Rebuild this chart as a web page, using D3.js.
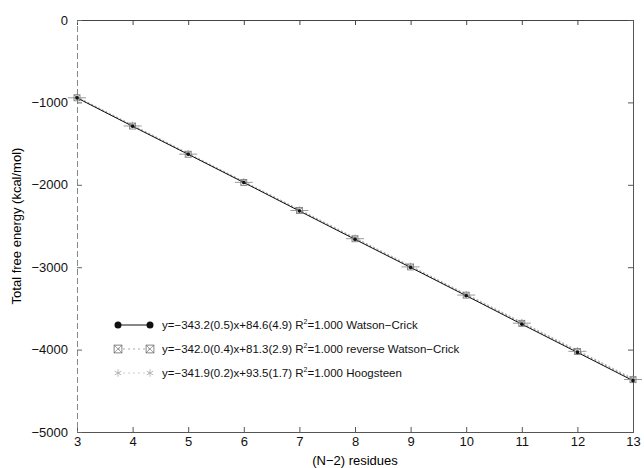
<!DOCTYPE html>
<html>
<head>
<meta charset="utf-8">
<script src="https://cdn.jsdelivr.net/npm/d3@7"></script>
<style>
  body { margin: 0; background: #fff; }
  svg text { font-family: "Liberation Sans", Arial, sans-serif; }
</style>
</head>
<body>
<svg id="chart" width="644" height="468"></svg>
<script>
// residues (N-2)
const residues = [3, 4, 5, 6, 7, 8, 9, 10, 11, 12, 13];

// total free energy (kcal/mol)
const watsonCrick = [-945, -1290, -1630, -1972, -2318, -2662, -3003, -3346, -3692, -4034, -4377];
const reverseWC = [-944, -1287, -1629, -1971, -2312, -2655, -2997, -3339, -3681, -4023, -4365];
const hoogsteen = [-932, -1274, -1616, -1958, -2300, -2642, -2984, -3326, -3667, -4009, -4351];

const xTicks = [3, 4, 5, 6, 7, 8, 9, 10, 11, 12, 13];
const yTicks = [0, -1000, -2000, -3000, -4000, -5000];

const legendLabels = [
  "y=\u2212343.2(0.5)x+84.6(4.9) R|=1.000 Watson\u2212Crick",
  "y=\u2212342.0(0.4)x+81.3(2.9) R|=1.000 reverse Watson\u2212Crick",
  "y=\u2212341.9(0.2)x+93.5(1.7) R|=1.000 Hoogsteen"
];

const mLeft = 77, mRight = 633, mTop = 20, mBottom = 432;

const svg = d3.select('#chart');

const xScale = d3.scaleLinear().domain([3, 13]).range([mLeft, mRight]);
const yScale = d3.scaleLinear().domain([-5000, 0]).range([mBottom, mTop]);

const fmt = d => d < 0 ? "\u2212" + Math.abs(d) : String(d);

// bottom axis (labels) + top axis (ticks only), ticks inward
svg.append('g')
  .attr('transform', `translate(0, ${mBottom})`)
  .call(d3.axisBottom(xScale).tickValues(xTicks).tickSize(-5).tickPadding(5).tickFormat(d3.format('d')))
  .call(g => g.select('.domain').attr('stroke', '#555'))
  .call(g => g.selectAll('.tick line').attr('stroke', '#555'))
  .call(g => g.selectAll('text').attr('font-size', 13).attr('fill', '#111'));

svg.append('g')
  .attr('transform', `translate(0, ${mTop})`)
  .call(d3.axisTop(xScale).tickValues(xTicks).tickSize(-5).tickFormat(''))
  .call(g => g.select('.domain').attr('stroke', '#444'))
  .call(g => g.selectAll('.tick line').attr('stroke', '#444'));

svg.append('g')
  .attr('transform', `translate(${mLeft}, 0)`)
  .call(d3.axisLeft(yScale).tickValues(yTicks).tickSize(-5).tickPadding(9).tickFormat(fmt))
  .call(g => g.select('.domain').attr('stroke', '#888').attr('stroke-dasharray', '6,3'))
  .call(g => g.selectAll('.tick line').attr('stroke', '#666'))
  .call(g => g.selectAll('text').attr('font-size', 13).attr('fill', '#111'));

svg.append('g')
  .attr('transform', `translate(${mRight}, 0)`)
  .call(d3.axisRight(yScale).tickValues(yTicks).tickSize(-5).tickFormat(''))
  .call(g => g.select('.domain').attr('stroke', '#555'))
  .call(g => g.selectAll('.tick line').attr('stroke', '#555'));

// axis titles
svg.append('text')
  .attr('x', 355)
  .attr('y', 465)
  .attr('text-anchor', 'middle')
  .attr('font-size', 13)
  .text('(N\u22122) residues');

svg.append('text')
  .attr('transform', 'translate(21, 226) rotate(-90)')
  .attr('text-anchor', 'middle')
  .attr('font-size', 13)
  .text('Total free energy (kcal/mol)');

// series
const series = [
  { values: hoogsteen, stroke: '#aaa', dash: '2,2', marker: 'star', color: '#999' },
  { values: reverseWC, stroke: '#888', dash: '2,2', marker: 'square', color: '#777' },
  { values: watsonCrick, stroke: '#111', dash: null, marker: 'circle', color: '#111' }
];

const line = d3.line()
  .x((d, i) => xScale(residues[i]))
  .y(d => yScale(d));

function drawMarker(g, type, x, y, color, big) {
  const s = big ? 1.3 : 1;
  if (type === 'circle') {
    g.append('circle').attr('cx', x).attr('cy', y).attr('r', (big ? 3.5 : 1.8))
      .attr('fill', color);
  } else if (type === 'square') {
    g.append('rect').attr('x', x - 3 * s).attr('y', y - 3 * s)
      .attr('width', 6 * s).attr('height', 6 * s)
      .attr('fill', 'none').attr('stroke', color).attr('stroke-width', 0.8);
    g.append('path')
      .attr('d', `M${x - 3 * s},${y - 3 * s}L${x + 3 * s},${y + 3 * s}M${x + 3 * s},${y - 3 * s}L${x - 3 * s},${y + 3 * s}`)
      .attr('stroke', color).attr('stroke-width', 0.6);
  } else {
    g.append('path')
      .attr('d', d3.symbol().type(d3.symbolAsterisk).size(big ? 40 : 30)())
      .attr('transform', `translate(${x},${y})`)
      .attr('fill', 'none').attr('stroke', color).attr('stroke-width', 0.8);
  }
}

series.forEach(s => {
  svg.append('path')
    .datum(s.values)
    .attr('d', line)
    .attr('fill', 'none')
    .attr('stroke', s.stroke)
    .attr('stroke-width', 1)
    .attr('stroke-dasharray', s.dash);
});

// horizontal error-like bars at each point
const pts = svg.append('g');
hoogsteen.forEach((v, i) => {
  const x = xScale(residues[i]);
  pts.append('line')
    .attr('x1', x - 9).attr('x2', x + 9)
    .attr('y1', yScale(v) + 1).attr('y2', yScale(v) + 1)
    .attr('stroke', '#999').attr('stroke-width', 1);
});

series.forEach(s => {
  s.values.forEach((v, i) => {
    drawMarker(pts, s.marker, xScale(residues[i]), yScale(v), s.color, false);
  });
});

// legend
const legend = svg.append('g');
const legendRows = [
  { marker: 'circle', stroke: '#111', dash: null, color: '#111' },
  { marker: 'square', stroke: '#aaa', dash: '2,3', color: '#666' },
  { marker: 'star', stroke: '#ccc', dash: '2,3', color: '#aaa' }
];
const legendY = [325, 349, 373];

legendRows.forEach((r, i) => {
  const y = legendY[i];
  legend.append('line')
    .attr('x1', 118).attr('x2', 150).attr('y1', y).attr('y2', y)
    .attr('stroke', r.stroke).attr('stroke-width', 1)
    .attr('stroke-dasharray', r.dash);
  drawMarker(legend, r.marker, 118, y, r.color, true);
  drawMarker(legend, r.marker, 150, y, r.color, true);

  const parts = legendLabels[i].split('|');
  const t = legend.append('text')
    .attr('x', 162).attr('y', y + 4)
    .attr('font-size', 11.5)
    .attr('fill', '#111');
  t.append('tspan').text(parts[0]);
  t.append('tspan').attr('dy', -5).attr('font-size', 7).text('2');
  t.append('tspan').attr('dy', 5).text(parts[1]);
});
</script>
</body>
</html>
